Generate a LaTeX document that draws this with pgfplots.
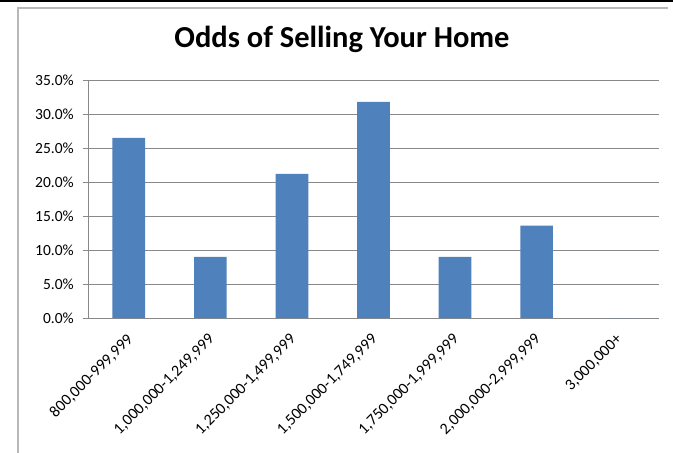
\documentclass[border=0pt]{standalone}
\usepackage{fontspec}
\setmainfont{Carlito}
\usepackage{pgfplots}
\pgfplotsset{compat=1.18}
\definecolor{barblue}{HTML}{4F81BD}
\definecolor{gridgray}{HTML}{888888}
\begin{document}
\begin{tikzpicture}[x=1pt,y=1pt]
\path[use as bounding box] (0,0) rectangle (673,453);
\fill[white] (0,0) rectangle (673,453);
\draw[black, line width=2pt] (0,452) -- (673,452);
\draw[gridgray!60, line width=1.2pt] (18,0) -- (18,445) -- (668,445);
\node[font=\bfseries\fontsize{30.5}{36}\selectfont, anchor=base] at (342,405) {Odds of Selling Your Home};
\begin{axis}[
  at={(88pt,135pt)}, anchor=south west,
  scale only axis, width=571pt, height=238pt,
  xmin=0, xmax=7, ymin=0, ymax=35,
  axis x line*=bottom, axis y line*=left,
  axis line style={gridgray, line width=0.9pt},
  ybar, bar width=32.7pt,
  xtick={0.5,1.5,...,6.5},
  minor xtick={0,1,...,7},
  xticklabels={{800,000-999,999}, {1,000,000-1,249,999}, {1,250,000-1,499,999}, {1,500,000-1,749,999}, {1,750,000-1,999,999}, {2,000,000-2,999,999}, {3,000,000+}},
  ytick={0,5,...,35},
  yticklabel={\pgfmathprintnumber[fixed,fixed zerofill,precision=1]{\tick}\%},
  /pgf/number format/assume math mode=true,
  tick align=outside,
  xtick style={draw=none},
  minor x tick style={gridgray, line width=0.9pt},
  minor tick length=5pt,
  major tick length=5pt,
  ytick style={gridgray, line width=0.9pt},
  ymajorgrids, grid style={gridgray, line width=0.9pt},
  xticklabel style={xshift=-3pt, yshift=-8pt, rotate=45, anchor=north east, font=\fontsize{16}{18}\selectfont, inner sep=1pt},
  yticklabel style={font=\fontsize{15.5}{18}\selectfont, inner sep=1pt, xshift=-8pt},
]
\addplot[fill=barblue, draw=none, bar shift=0pt] coordinates {(0.5,26.5) (1.5,9.0) (2.5,21.2) (3.5,31.8) (4.5,9.0) (5.5,13.6) (6.5,0)};
\end{axis}
\end{tikzpicture}
\end{document}
